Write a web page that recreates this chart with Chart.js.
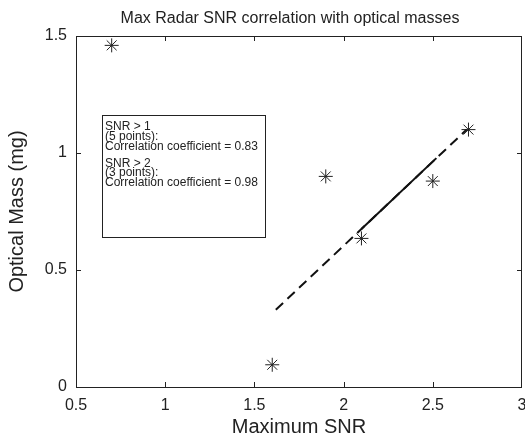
<!DOCTYPE html>
<html>
<head>
<meta charset="utf-8">
<script src="https://cdn.jsdelivr.net/npm/chart.js@4/dist/chart.umd.min.js"></script>
<style>
  html, body { margin: 0; padding: 0; background: #fff; }
  #wrap { width: 525px; height: 439px; }
</style>
</head>
<body>
<div id="wrap"><canvas id="c" width="525" height="439"></canvas></div>
<script>
// ---- data ----
const snrValues   = [0.7, 1.6, 1.9, 2.1, 2.5, 2.7];
const massValues  = [1.46, 0.095, 0.9, 0.635, 0.88, 1.1];
const fit5X = [1.62, 2.69];          // dashed fit line (SNR > 1)
const fit5Y = [0.33, 1.10];
const fit3X = [2.1, 2.52];           // solid fit segment (SNR > 2)
const fit3Y = [0.675, 0.978];
const xTicks = [0.5, 1, 1.5, 2, 2.5, 3];
const yTicks = [0, 0.5, 1, 1.5];
const titleText = 'Max Radar SNR correlation with optical masses';
const xTitle = 'Maximum SNR';
const yTitle = 'Optical Mass (mg)';
const noteLines = ['SNR > 1', '(5 points):', 'Correlation coefficient = 0.83', 'SNR > 2', '(3 points):', 'Correlation coefficient = 0.98'];

const FONT = '"Liberation Sans", Arial, Helvetica, sans-serif';
const INK = '#222';
const noteBaselines = [130, 139.8, 149.5, 166.5, 176.2, 186];

const boxTicksPlugin = {
  id: 'boxTicks',
  afterDraw(chart) {
    const {ctx, chartArea: a, scales: {x, y}} = chart;
    ctx.save();
    ctx.strokeStyle = INK;
    ctx.lineWidth = 1;
    ctx.strokeRect(Math.round(a.left) + 0.5, Math.round(a.top) + 0.5,
                   Math.round(a.right - a.left) - 1, Math.round(a.bottom - a.top));
    const L = 5;
    ctx.beginPath();
    xTicks.forEach(v => {
      const px = Math.min(Math.round(x.getPixelForValue(v)), Math.round(a.right) - 1) + 0.5;
      ctx.moveTo(px, a.bottom); ctx.lineTo(px, a.bottom - L);
      ctx.moveTo(px, a.top); ctx.lineTo(px, a.top + L);
    });
    yTicks.forEach(v => {
      const py = Math.round(y.getPixelForValue(v)) + 0.5;
      ctx.moveTo(a.left, py); ctx.lineTo(a.left + L, py);
      ctx.moveTo(a.right, py); ctx.lineTo(a.right - L, py);
    });
    ctx.stroke();

    // title
    ctx.fillStyle = INK;
    ctx.font = '16px ' + FONT;
    ctx.textAlign = 'center';
    ctx.textBaseline = 'alphabetic';
    ctx.fillText(titleText, 290, 23);

    // annotation box
    ctx.fillStyle = '#fff';
    ctx.fillRect(103, 115, 163, 123);
    ctx.strokeStyle = INK;
    ctx.strokeRect(102.5, 115.5, 163, 122);
    ctx.fillStyle = INK;
    ctx.font = '12px ' + FONT;
    ctx.textAlign = 'left';
    noteLines.forEach((t, i) => ctx.fillText(t, 105, noteBaselines[i]));
    ctx.restore();
  }
};

new Chart(document.getElementById('c'), {
  type: 'scatter',
  data: {
    datasets: [
      {
        type: 'line',
        data: fit5X.map((v, i) => ({x: v, y: fit5Y[i]})),
        borderColor: '#111',
        borderWidth: 2,
        borderDash: [10, 6],
        pointRadius: 0,
        fill: false
      },
      {
        type: 'line',
        data: fit3X.map((v, i) => ({x: v, y: fit3Y[i]})),
        borderColor: '#111',
        borderWidth: 2,
        pointRadius: 0,
        fill: false
      },
      {
        data: snrValues.map((v, i) => ({x: v, y: massValues[i]})),
        pointStyle: 'star',
        pointRadius: 7,
        pointBorderWidth: 1,
        borderColor: '#222',
        backgroundColor: '#222'
      }
    ]
  },
  options: {
    responsive: false,
    animation: false,
    events: [],
    layout: { autoPadding: false, padding: { top: 36, right: 3, left: 0, bottom: 0 } },
    plugins: { legend: { display: false }, tooltip: { enabled: false }, title: { display: false } },
    scales: {
      x: {
        type: 'linear', min: 0.5, max: 3,
        afterBuildTicks(s) { s.ticks = xTicks.map(v => ({value: v})); },
        afterFit(s) { s.height = 52; s.paddingLeft = 0; s.paddingRight = 0; },
        grid: { display: false, drawTicks: false },
        border: { display: false },
        ticks: { color: INK, font: { family: FONT, size: 16 }, padding: 9, maxRotation: 0, autoSkip: false,
                 callback: v => String(v) },
        title: { display: true, text: xTitle, color: INK, font: { family: FONT, size: 20 }, padding: { top: 0, bottom: 0 } }
      },
      y: {
        type: 'linear', min: 0, max: 1.5,
        afterBuildTicks(s) { s.ticks = yTicks.map(v => ({value: v})); },
        afterFit(s) { s.width = 76; s.paddingTop = 0; s.paddingBottom = 0; },
        grid: { display: false, drawTicks: false },
        border: { display: false },
        ticks: { color: INK, font: { family: FONT, size: 16 }, padding: 9, autoSkip: false,
                 callback: v => String(v) },
        title: { display: true, text: yTitle, color: INK, font: { family: FONT, size: 20 }, padding: { top: 5, bottom: 0 } }
      }
    }
  },
  plugins: [boxTicksPlugin]
});
</script>
</body>
</html>
